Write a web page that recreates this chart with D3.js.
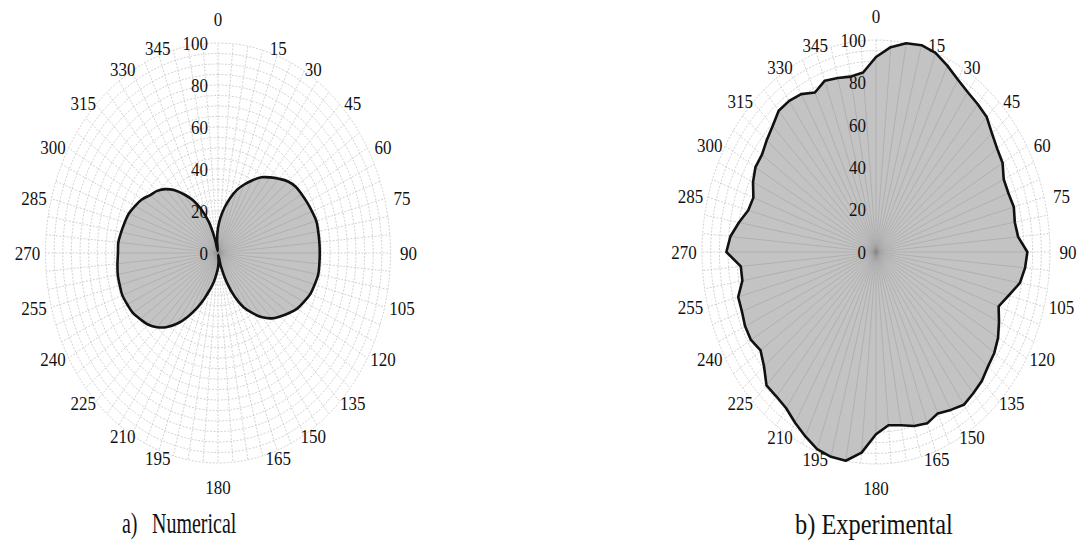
<!DOCTYPE html>
<html>
<head>
<meta charset="utf-8">
<script src="https://cdn.jsdelivr.net/npm/d3@7"></script>
<style>
  body { margin: 0; background: #fff; }
  text { font-family: "Liberation Serif", "Times New Roman", serif; fill: #111; }
</style>
</head>
<body>
<div id="chart"></div>
<script>
// angle of every sample (deg, clockwise from top), 5 deg step
const angles = d3.range(0, 360, 5);

// a) Numerical
const numerical = [
    12, 17, 22, 27, 32, 36, 40, 44, 47, 50, 53, 55,
    56, 57, 58, 59, 59, 59, 59, 59, 59, 58, 57, 55,
    53, 50, 47, 44, 40, 35, 30, 23, 15, 7, 1, 4,
    7, 10, 14, 18, 23, 29, 35, 41, 46, 50, 53, 55,
    57, 58, 59, 59, 59, 58.5, 58, 58, 57, 56, 55, 53,
    51, 48, 46, 43, 39, 34, 29, 23, 16, 7, 1, 6
];

// b) Experimental
const experimental = [
    92, 97, 100, 101, 100, 97, 94, 92, 91, 90, 87, 85,
    84, 81, 81, 82, 81, 82, 87, 86, 84, 79, 75, 78,
    81, 83, 84, 86, 87, 88, 86, 84, 86, 85, 83, 82,
    86, 95, 100, 100, 99, 96, 93, 90, 89, 89, 84, 81,
    83, 83, 82, 82, 78, 78, 86, 84, 80, 76, 75, 78,
    80, 80, 82, 84, 87, 87, 86, 83, 86, 85, 84, 85
];

const angleTicks = d3.range(0, 360, 15);
const radialTicks = [0, 20, 40, 60, 80, 100];

const width = 1078, height = 558;

const svg = d3.select("#chart")
    .append("svg")
    .attr("width", width)
    .attr("height", height);

svg.append("rect").attr("width", width).attr("height", height).attr("fill", "#fff");

const defs = svg.append("defs");

const theta = d3.scaleLinear().domain([0, 360]).range([0, 2 * Math.PI]);
const rad = d3.scaleLinear().domain([0, 100]).range([0, 1]);

function drawPolar(id, cx, cy, rx, ry, values, curve) {
    const g = svg.append("g").attr("transform", `translate(${cx},${cy})`);

    const px = (a, v) => rx * rad(v) * Math.sin(theta(a));
    const py = (a, v) => -ry * rad(v) * Math.cos(theta(a));

    // grid rings every 5
    const ring = d3.line().curve(d3.curveLinearClosed);
    const fine = d3.range(0, 360, 2);
    g.selectAll(".ring")
        .data(d3.range(5, 101, 5))
        .enter()
        .append("path")
        .attr("d", v => ring(fine.map(a => [px(a, v), py(a, v)])))
        .attr("fill", "none")
        .attr("stroke", "#c8c8c8")
        .attr("stroke-width", 0.8)
        .attr("stroke-dasharray", "2,1.5");

    // spokes every 5 deg
    g.selectAll(".spoke")
        .data(angles)
        .enter()
        .append("line")
        .attr("x1", 0).attr("y1", 0)
        .attr("x2", a => px(a, 100))
        .attr("y2", a => py(a, 100))
        .attr("stroke", "#c8c8c8")
        .attr("stroke-width", 0.8)
        .attr("stroke-dasharray", "2,1.5");

    const shape = d3.line().curve(curve);
    const pts = angles.map((a, i) => [px(a, values[i]), py(a, values[i])]);
    const d = shape(pts);

    g.append("path")
        .attr("d", d)
        .attr("fill", "#c3c3c3")
        .attr("stroke", "none");

    // darker spokes seen through the fill
    defs.append("clipPath").attr("id", "clip-" + id)
        .append("path").attr("d", d);

    g.append("g")
        .attr("clip-path", `url(#clip-${id})`)
        .selectAll("line")
        .data(angles)
        .enter()
        .append("line")
        .attr("x1", 0).attr("y1", 0)
        .attr("x2", a => px(a, 100))
        .attr("y2", a => py(a, 100))
        .attr("stroke", "#8f8f8f")
        .attr("stroke-opacity", 0.45)
        .attr("stroke-width", 0.8);

    g.append("path")
        .attr("d", d)
        .attr("fill", "none")
        .attr("stroke", "#111")
        .attr("stroke-width", 2.6)
        .attr("stroke-linejoin", "round");

    // radial tick labels
    g.selectAll(".rlab")
        .data(radialTicks)
        .enter()
        .append("text")
        .attr("transform", v => `translate(-10,${py(0, v)}) scale(1,1.15)`)
        .attr("text-anchor", "end")
        .attr("dy", "0.35em")
        .style("font-size", "17px")
        .text(v => v);

    // angle labels
    const lrx = rx + 18, lry = ry + 2;
    g.selectAll(".alab")
        .data(angleTicks)
        .enter()
        .append("text")
        .attr("transform", a => {
            const s = Math.sin(theta(a)), c = Math.cos(theta(a));
            let x = lrx * s, y = -lry * c;
            if (a % 180 === 0) y = -(lry + 22) * c;
            if (a % 180 === 15 || a % 180 === 165) x += Math.sign(s) * 11;
            return `translate(${x},${y}) scale(1,1.15)`;
        })
        .attr("text-anchor", "middle")
        .attr("dy", "0.35em")
        .style("font-size", "17px")
        .text(a => a);
}

drawPolar("num", 218, 253, 172.5, 210, numerical, d3.curveCatmullRomClosed.alpha(0.5));
drawPolar("exp", 876, 252, 174, 212, experimental, d3.curveLinearClosed);

// captions
svg.append("text")
    .attr("transform", "translate(122,533) scale(1,1.5)")
    .style("font-size", "20px")
    .text("a)");
svg.append("text")
    .attr("transform", "translate(152,533) scale(1,1.5)")
    .style("font-size", "20px")
    .text("Numerical");
svg.append("text")
    .attr("transform", "translate(795,534) scale(1.22,1.5)")
    .style("font-size", "20px")
    .text("b) Experimental");
</script>
</body>
</html>
